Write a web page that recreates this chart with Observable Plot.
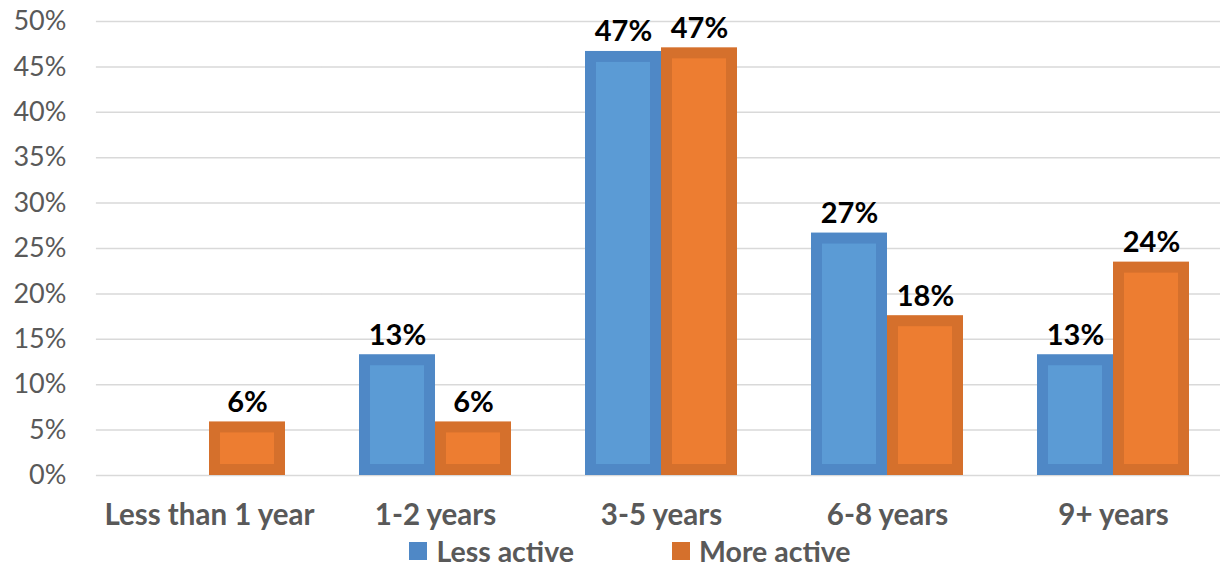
<!DOCTYPE html>
<html>
<head>
<meta charset="utf-8">
<script src="https://cdn.jsdelivr.net/npm/d3@7"></script>
<script src="https://cdn.jsdelivr.net/npm/@observablehq/plot@0.6"></script>
<style>
  html, body { margin: 0; padding: 0; background: #fff; overflow: hidden; }
  #chart svg { display: block; overflow: visible; }
  #legend { display: flex; justify-content: center; align-items: center; padding-left: 40px; height: 32px; }
  #legend > div { margin: 0 !important; line-height: 32px; }
  #legend span { margin-right: 98px !important; }
  #legend span:last-child { margin-right: 0 !important; }
  #legend svg { margin-right: 9px !important; }
</style>
</head>
<body>
<div id="chart"></div>
<div id="legend"></div>
<script>
// Tenure categories and share of respondents (%) for each activity group
const categories = ["Less than 1 year", "1-2 years", "3-5 years", "6-8 years", "9+ years"];
const seriesNames = ["Less active", "More active"];
const lessActive = [null, 13.3, 46.7, 26.7, 13.3];
const moreActive = [5.9, 5.9, 47.1, 17.6, 23.5];
const yTicks = [0, 5, 10, 15, 20, 25, 30, 35, 40, 45, 50];

const fills = ["#5B9BD5", "#ED7D31"];
const borders = ["#4F88C6", "#D5702C"];
const font = "Lato";

const W = 1220, H = 535, mL = 95, mR = -6;
const gapRatio = 0.328;
// half the gap between category groups, so each facet's gridline meets its neighbour's
const halfGap = ((W - mL - mR) / categories.length) * gapRatio / 2;

const rows = [];
categories.forEach((c, i) => {
  rows.push({cat: c, series: seriesNames[0], value: lessActive[i]});
  rows.push({cat: c, series: seriesNames[1], value: moreActive[i]});
});
const present = rows.filter(d => d.value != null);

const barMarks = seriesNames.map((s, k) =>
  Plot.barY(present.filter(d => d.series === s), {
    fx: "cat", x: "series", y: "value",
    fill: fills[k], stroke: borders[k], strokeWidth: 11, inset: 5.5
  })
);

const chart = Plot.plot({
  width: W,
  height: H,
  marginTop: 21,
  marginBottom: 60,
  marginLeft: mL,
  marginRight: mR,
  style: {fontFamily: font, background: "#fff"},
  fx: {domain: categories, paddingInner: gapRatio, paddingOuter: gapRatio / 2, label: null},
  x: {domain: seriesNames, padding: 0, axis: null},
  y: {domain: [0, 50], label: null},
  marks: [
    Plot.ruleY(yTicks, {stroke: "#D9D9D9", strokeWidth: 1.5, insetLeft: -halfGap, insetRight: -halfGap}),
    Plot.axisY({ticks: yTicks, tickSize: 0, tickPadding: 30 + halfGap, tickFormat: d => d + "%",
      fontSize: 27, color: "#595959", label: null}),
    Plot.axisFx({anchor: "bottom", tickSize: 0, tickPadding: 29, fontSize: 29.5,
      fontWeight: "bold", color: "#595959", label: null}),
    ...barMarks,
    Plot.text(present, {
      fx: "cat", x: "series", y: "value",
      text: d => Math.round(d.value) + "%",
      dy: -10, lineAnchor: "bottom",
      fontSize: 29, fontWeight: "bold", fill: "#000"
    })
  ]
});
document.getElementById("chart").appendChild(chart);

const legend = Plot.legend({
  color: {type: "ordinal", domain: seriesNames, range: borders},
  swatchSize: 18,
  style: {font: "bold 28.5px " + font, color: "#595959"}
});
document.getElementById("legend").appendChild(legend);
</script>
</body>
</html>
